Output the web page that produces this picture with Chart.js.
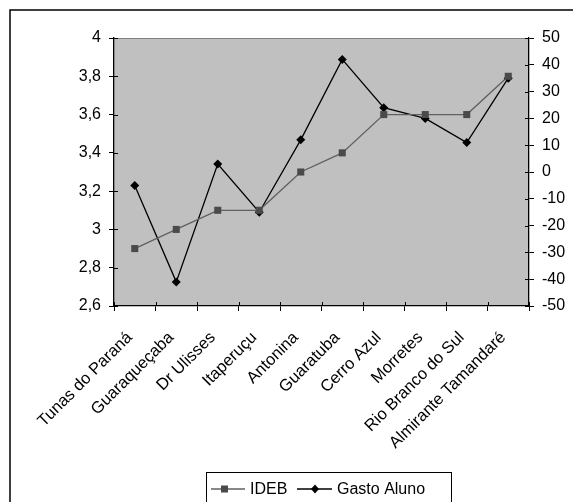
<!DOCTYPE html>
<html>
<head>
<meta charset="utf-8">
<script src="https://cdn.jsdelivr.net/npm/chart.js@4.4.1/dist/chart.umd.min.js"></script>
<style>
  html, body { margin: 0; padding: 0; background: #fff; }
  #wrap { width: 573px; height: 502px; position: relative; }
</style>
</head>
<body>
<div id="wrap"><canvas id="c" width="573" height="502"></canvas></div>
<script>
// Municípios
const municipios = [
  'Tunas do Paraná', 'Guaraqueçaba', 'Dr Ulisses', 'Itaperuçu', 'Antonina',
  'Guaratuba', 'Cerro Azul', 'Morretes', 'Rio Branco do Sul', 'Almirante Tamandaré'
];
// IDEB (eixo esquerdo)
const ideb = [2.9, 3.0, 3.1, 3.1, 3.3, 3.4, 3.6, 3.6, 3.6, 3.8];
// Gasto por aluno (eixo direito)
const gastoAluno = [-5, -41, 3, -15, 12, 42, 24, 20, 11, 35];

const FONT = 'Liberation Sans, Arial, sans-serif';
const FSIZE = 16;
const XSIZE = 16.5;

// Decimal comma labels for the IDEB axis
function fmtComma(v) {
  const r = Math.round(v * 10) / 10;
  return String(r).replace('.', ',');
}

// Gray plot background, outer frame, inner tick halves and a boxed legend
const decorPlugin = {
  id: 'decor',
  beforeDraw(chart) {
    const { ctx, chartArea: a } = chart;
    ctx.save();
    ctx.fillStyle = '#ffffff';
    ctx.fillRect(0, 0, chart.width, chart.height);
    ctx.fillStyle = '#c0c0c0';
    ctx.fillRect(a.left, a.top, a.right - a.left, a.bottom - a.top);
    ctx.strokeStyle = '#808080';
    ctx.lineWidth = 1;
    ctx.beginPath();
    ctx.moveTo(a.left, a.top + 0.5);
    ctx.lineTo(a.right, a.top + 0.5);
    ctx.stroke();
    // outer frame
    ctx.strokeStyle = '#000';
    ctx.lineWidth = 1.5;
    ctx.strokeRect(10, 10, 700, 700);
    ctx.restore();
  },
  afterDatasetsDraw(chart) {
    // tick marks cross the axes: draw the part inside the plot area
    const { ctx, chartArea: a, scales } = chart;
    const IN = 4;
    ctx.save();
    ctx.strokeStyle = '#000';
    ctx.lineWidth = 1;
    scales.y.ticks.forEach((t, i) => {
      const p = Math.round(scales.y.getPixelForTick(i)) + 0.5;
      ctx.beginPath(); ctx.moveTo(a.left, p); ctx.lineTo(a.left + IN, p); ctx.stroke();
    });
    scales.y1.ticks.forEach((t, i) => {
      const p = Math.round(scales.y1.getPixelForTick(i)) + 0.5;
      ctx.beginPath(); ctx.moveTo(a.right - IN, p); ctx.lineTo(a.right, p); ctx.stroke();
    });
    const n = scales.x.ticks.length;
    const step = (a.right - a.left) / n;
    for (let i = 0; i <= n; i++) {
      const p = Math.round(a.left + i * step) + 0.5;
      ctx.beginPath(); ctx.moveTo(p, a.bottom - IN); ctx.lineTo(p, a.bottom); ctx.stroke();
    }
    ctx.restore();
  },
  afterDraw(chart) {
    const { ctx } = chart;
    const ds = chart.data.datasets;
    ctx.save();
    // legend box
    ctx.strokeStyle = '#000';
    ctx.lineWidth = 1;
    ctx.fillStyle = '#fff';
    ctx.fillRect(206, 472, 245, 40);
    ctx.strokeRect(206.5, 472.5, 245, 40);
    const cy = 489;
    ctx.font = FSIZE + 'px ' + FONT;
    ctx.textBaseline = 'middle';
    ctx.textAlign = 'left';
    // IDEB entry
    ctx.strokeStyle = ds[0].borderColor;
    ctx.lineWidth = 1.3;
    ctx.beginPath(); ctx.moveTo(211, cy); ctx.lineTo(245, cy); ctx.stroke();
    ctx.fillStyle = ds[0].pointBackgroundColor;
    ctx.fillRect(224.5 - 3.5, cy - 3.5, 7, 7);
    ctx.fillStyle = '#000';
    ctx.fillText(ds[0].label, 250, cy + 1);
    // Gasto Aluno entry
    ctx.strokeStyle = ds[1].borderColor;
    ctx.beginPath(); ctx.moveTo(297, cy); ctx.lineTo(332, cy); ctx.stroke();
    ctx.fillStyle = ds[1].pointBackgroundColor;
    ctx.beginPath();
    ctx.moveTo(315, cy - 4.5); ctx.lineTo(319, cy); ctx.lineTo(315, cy + 4.5); ctx.lineTo(311, cy);
    ctx.closePath(); ctx.fill();
    ctx.fillStyle = '#000';
    ctx.fillText(ds[1].label, 337, cy + 1);
    ctx.restore();
  }
};

new Chart(document.getElementById('c'), {
  type: 'line',
  data: {
    labels: municipios,
    datasets: [
      {
        label: 'IDEB',
        data: ideb,
        yAxisID: 'y',
        borderColor: '#606060',
        borderWidth: 1.3,
        pointStyle: 'rect',
        pointRadius: 5,
        pointBackgroundColor: '#4a4a4a',
        pointBorderColor: '#4a4a4a',
        pointBorderWidth: 0,
        tension: 0
      },
      {
        label: 'Gasto Aluno',
        data: gastoAluno,
        yAxisID: 'y1',
        borderColor: '#000000',
        borderWidth: 1.3,
        pointStyle: 'rectRot',
        pointRadius: 4.5,
        pointBackgroundColor: '#000000',
        pointBorderColor: '#000000',
        pointBorderWidth: 0,
        tension: 0
      }
    ]
  },
  options: {
    responsive: false,
    animation: false,
    devicePixelRatio: 1,
    layout: { padding: { top: 38, left: 0, right: 0, bottom: 0 } },
    plugins: { legend: { display: false }, tooltip: { enabled: false } },
    scales: {
      x: {
        type: 'category',
        offset: true,
        grid: { offset: true, drawOnChartArea: false, color: '#000', tickLength: 5, tickColor: '#000' },
        border: { color: '#000', width: 1.3 },
        ticks: {
          color: '#000', font: { family: FONT, size: XSIZE },
          minRotation: 45, maxRotation: 45, autoSkip: false, padding: 17, labelOffset: -5
        },
        afterFit(s) { s.height = 196; }
      },
      y: {
        position: 'left',
        min: 2.6, max: 4,
        grid: { drawOnChartArea: false, color: '#000', tickLength: 5, tickColor: '#000' },
        border: { color: '#000', width: 1.3 },
        ticks: {
          stepSize: 0.2, color: '#000', font: { family: FONT, size: FSIZE }, padding: 8,
          callback: v => fmtComma(v)
        },
        afterFit(s) { s.width = 114; }
      },
      y1: {
        position: 'right',
        min: -50, max: 50,
        grid: { drawOnChartArea: false, color: '#000', tickLength: 5, tickColor: '#000' },
        border: { color: '#000', width: 1.3 },
        ticks: { stepSize: 10, color: '#000', font: { family: FONT, size: FSIZE }, padding: 8 },
        afterFit(s) { s.width = 44; }
      }
    }
  },
  plugins: [decorPlugin]
});
</script>
</body>
</html>
